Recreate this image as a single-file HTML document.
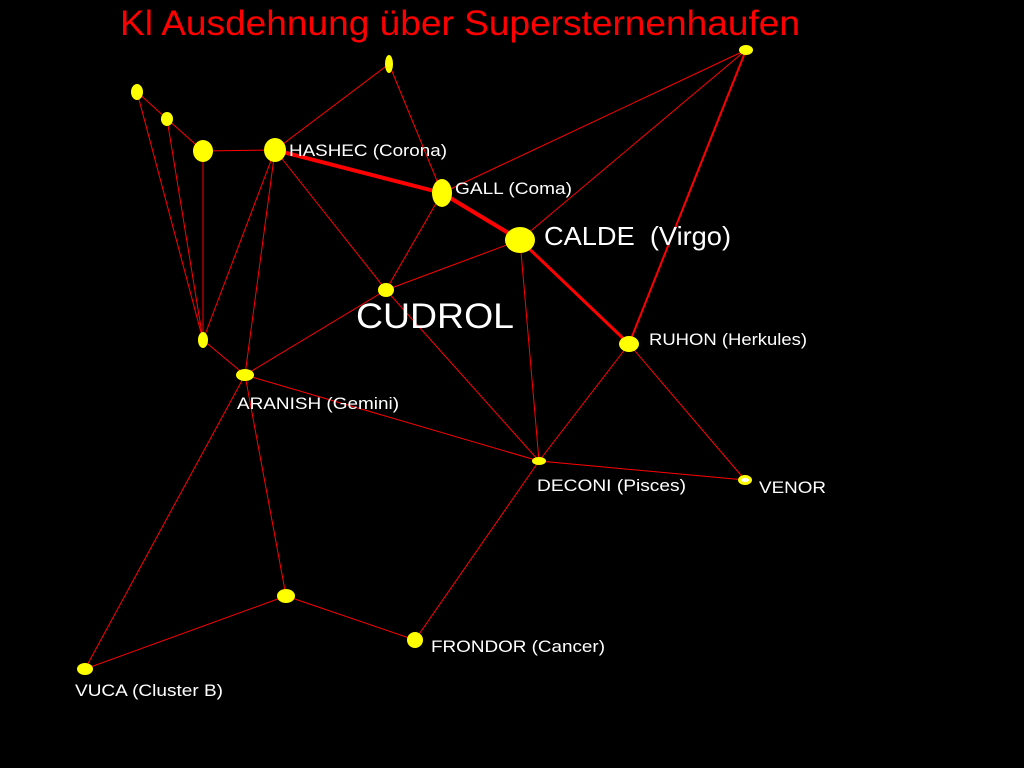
<!DOCTYPE html>
<html><head><meta charset="utf-8"><style>
html,body{margin:0;padding:0;background:#000;}
svg{display:block;}
text{font-family:"Liberation Sans",Arial,sans-serif;fill:#fff;}
</style></head><body>
<svg width="1024" height="768" viewBox="0 0 1024 768" xmlns="http://www.w3.org/2000/svg">
<rect width="1024" height="768" fill="#000"/>
<text x="120" y="35" font-size="35" textLength="680" lengthAdjust="spacingAndGlyphs" style="fill:#ff0000">Kl Ausdehnung über Supersternenhaufen</text>
<g stroke="#ff0000" stroke-width="1" fill="none">
<line x1="389" y1="64" x2="275" y2="150"/>
<line x1="389" y1="64" x2="442" y2="193"/>
<line x1="746" y1="50" x2="442" y2="193"/>
<line x1="746" y1="50" x2="520" y2="240"/>
<line x1="137" y1="92" x2="167" y2="119"/>
<line x1="167" y1="119" x2="203" y2="151"/>
<line x1="203" y1="151" x2="275" y2="150"/>
<line x1="137" y1="92" x2="203" y2="340"/>
<line x1="167" y1="119" x2="203" y2="340"/>
<line x1="203" y1="151" x2="203" y2="340"/>
<line x1="275" y1="150" x2="203" y2="340"/>
<line x1="275" y1="150" x2="245" y2="375"/>
<line x1="275" y1="150" x2="386" y2="290"/>
<line x1="203" y1="340" x2="245" y2="375"/>
<line x1="245" y1="375" x2="386" y2="290"/>
<line x1="442" y1="193" x2="386" y2="290"/>
<line x1="386" y1="290" x2="520" y2="240"/>
<line x1="386" y1="290" x2="539" y2="461"/>
<line x1="520" y1="240" x2="539" y2="461"/>
<line x1="245" y1="375" x2="539" y2="461"/>
<line x1="245" y1="375" x2="286" y2="596"/>
<line x1="245" y1="375" x2="85" y2="669"/>
<line x1="286" y1="596" x2="85" y2="669"/>
<line x1="286" y1="596" x2="415" y2="640"/>
<line x1="415" y1="640" x2="539" y2="461"/>
<line x1="539" y1="461" x2="745" y2="480"/>
<line x1="539" y1="461" x2="629" y2="344"/>
<line x1="629" y1="344" x2="745" y2="480"/>
</g>
<g stroke="#ff0000" fill="none">
<line x1="275" y1="150" x2="442" y2="193" stroke-width="4"/>
<line x1="442" y1="193" x2="520" y2="240" stroke-width="4"/>
<line x1="520" y1="240" x2="629" y2="344" stroke-width="3"/>
<line x1="746" y1="50" x2="629" y2="344" stroke-width="2"/>
</g>
<g fill="#ffff00">
<ellipse cx="389" cy="64" rx="4" ry="9"/>
<ellipse cx="746" cy="50" rx="7" ry="5"/>
<ellipse cx="137" cy="92" rx="6" ry="8"/>
<ellipse cx="167" cy="119" rx="6" ry="7"/>
<ellipse cx="203" cy="151" rx="10" ry="11"/>
<ellipse cx="275" cy="150" rx="11" ry="12"/>
<ellipse cx="442" cy="193" rx="10" ry="14"/>
<ellipse cx="520" cy="240" rx="15" ry="13"/>
<ellipse cx="386" cy="290" rx="8" ry="7"/>
<ellipse cx="203" cy="340" rx="5" ry="8"/>
<ellipse cx="245" cy="375" rx="9" ry="6"/>
<ellipse cx="629" cy="344" rx="10" ry="8"/>
<ellipse cx="539" cy="461" rx="7" ry="4"/>
<ellipse cx="745" cy="480" rx="7" ry="5"/>
<ellipse cx="286" cy="596" rx="9" ry="7"/>
<ellipse cx="415" cy="640" rx="8" ry="8"/>
<ellipse cx="85" cy="669" rx="8" ry="6"/>
</g>
<ellipse cx="745" cy="480" rx="4" ry="2" fill="#fff"/>
<g font-size="17">
<text x="289" y="156" textLength="158" lengthAdjust="spacingAndGlyphs">HASHEC (Corona)</text>
<text x="455" y="194" textLength="117" lengthAdjust="spacingAndGlyphs">GALL (Coma)</text>
<text x="544" y="245" font-size="26" textLength="187" lengthAdjust="spacingAndGlyphs">CALDE&#160; (Virgo)</text>
<text x="356" y="328" font-size="35" textLength="158" lengthAdjust="spacingAndGlyphs">CUDROL</text>
<text x="649" y="345" textLength="158" lengthAdjust="spacingAndGlyphs">RUHON (Herkules)</text>
<text x="237" y="409" textLength="162" lengthAdjust="spacingAndGlyphs">ARANISH (Gemini)</text>
<text x="537" y="491" textLength="149" lengthAdjust="spacingAndGlyphs">DECONI (Pisces)</text>
<text x="759" y="493" textLength="67" lengthAdjust="spacingAndGlyphs">VENOR</text>
<text x="431" y="652" textLength="174" lengthAdjust="spacingAndGlyphs">FRONDOR (Cancer)</text>
<text x="75" y="696" textLength="148" lengthAdjust="spacingAndGlyphs">VUCA (Cluster B)</text>
</g>
</svg>
</body></html>
